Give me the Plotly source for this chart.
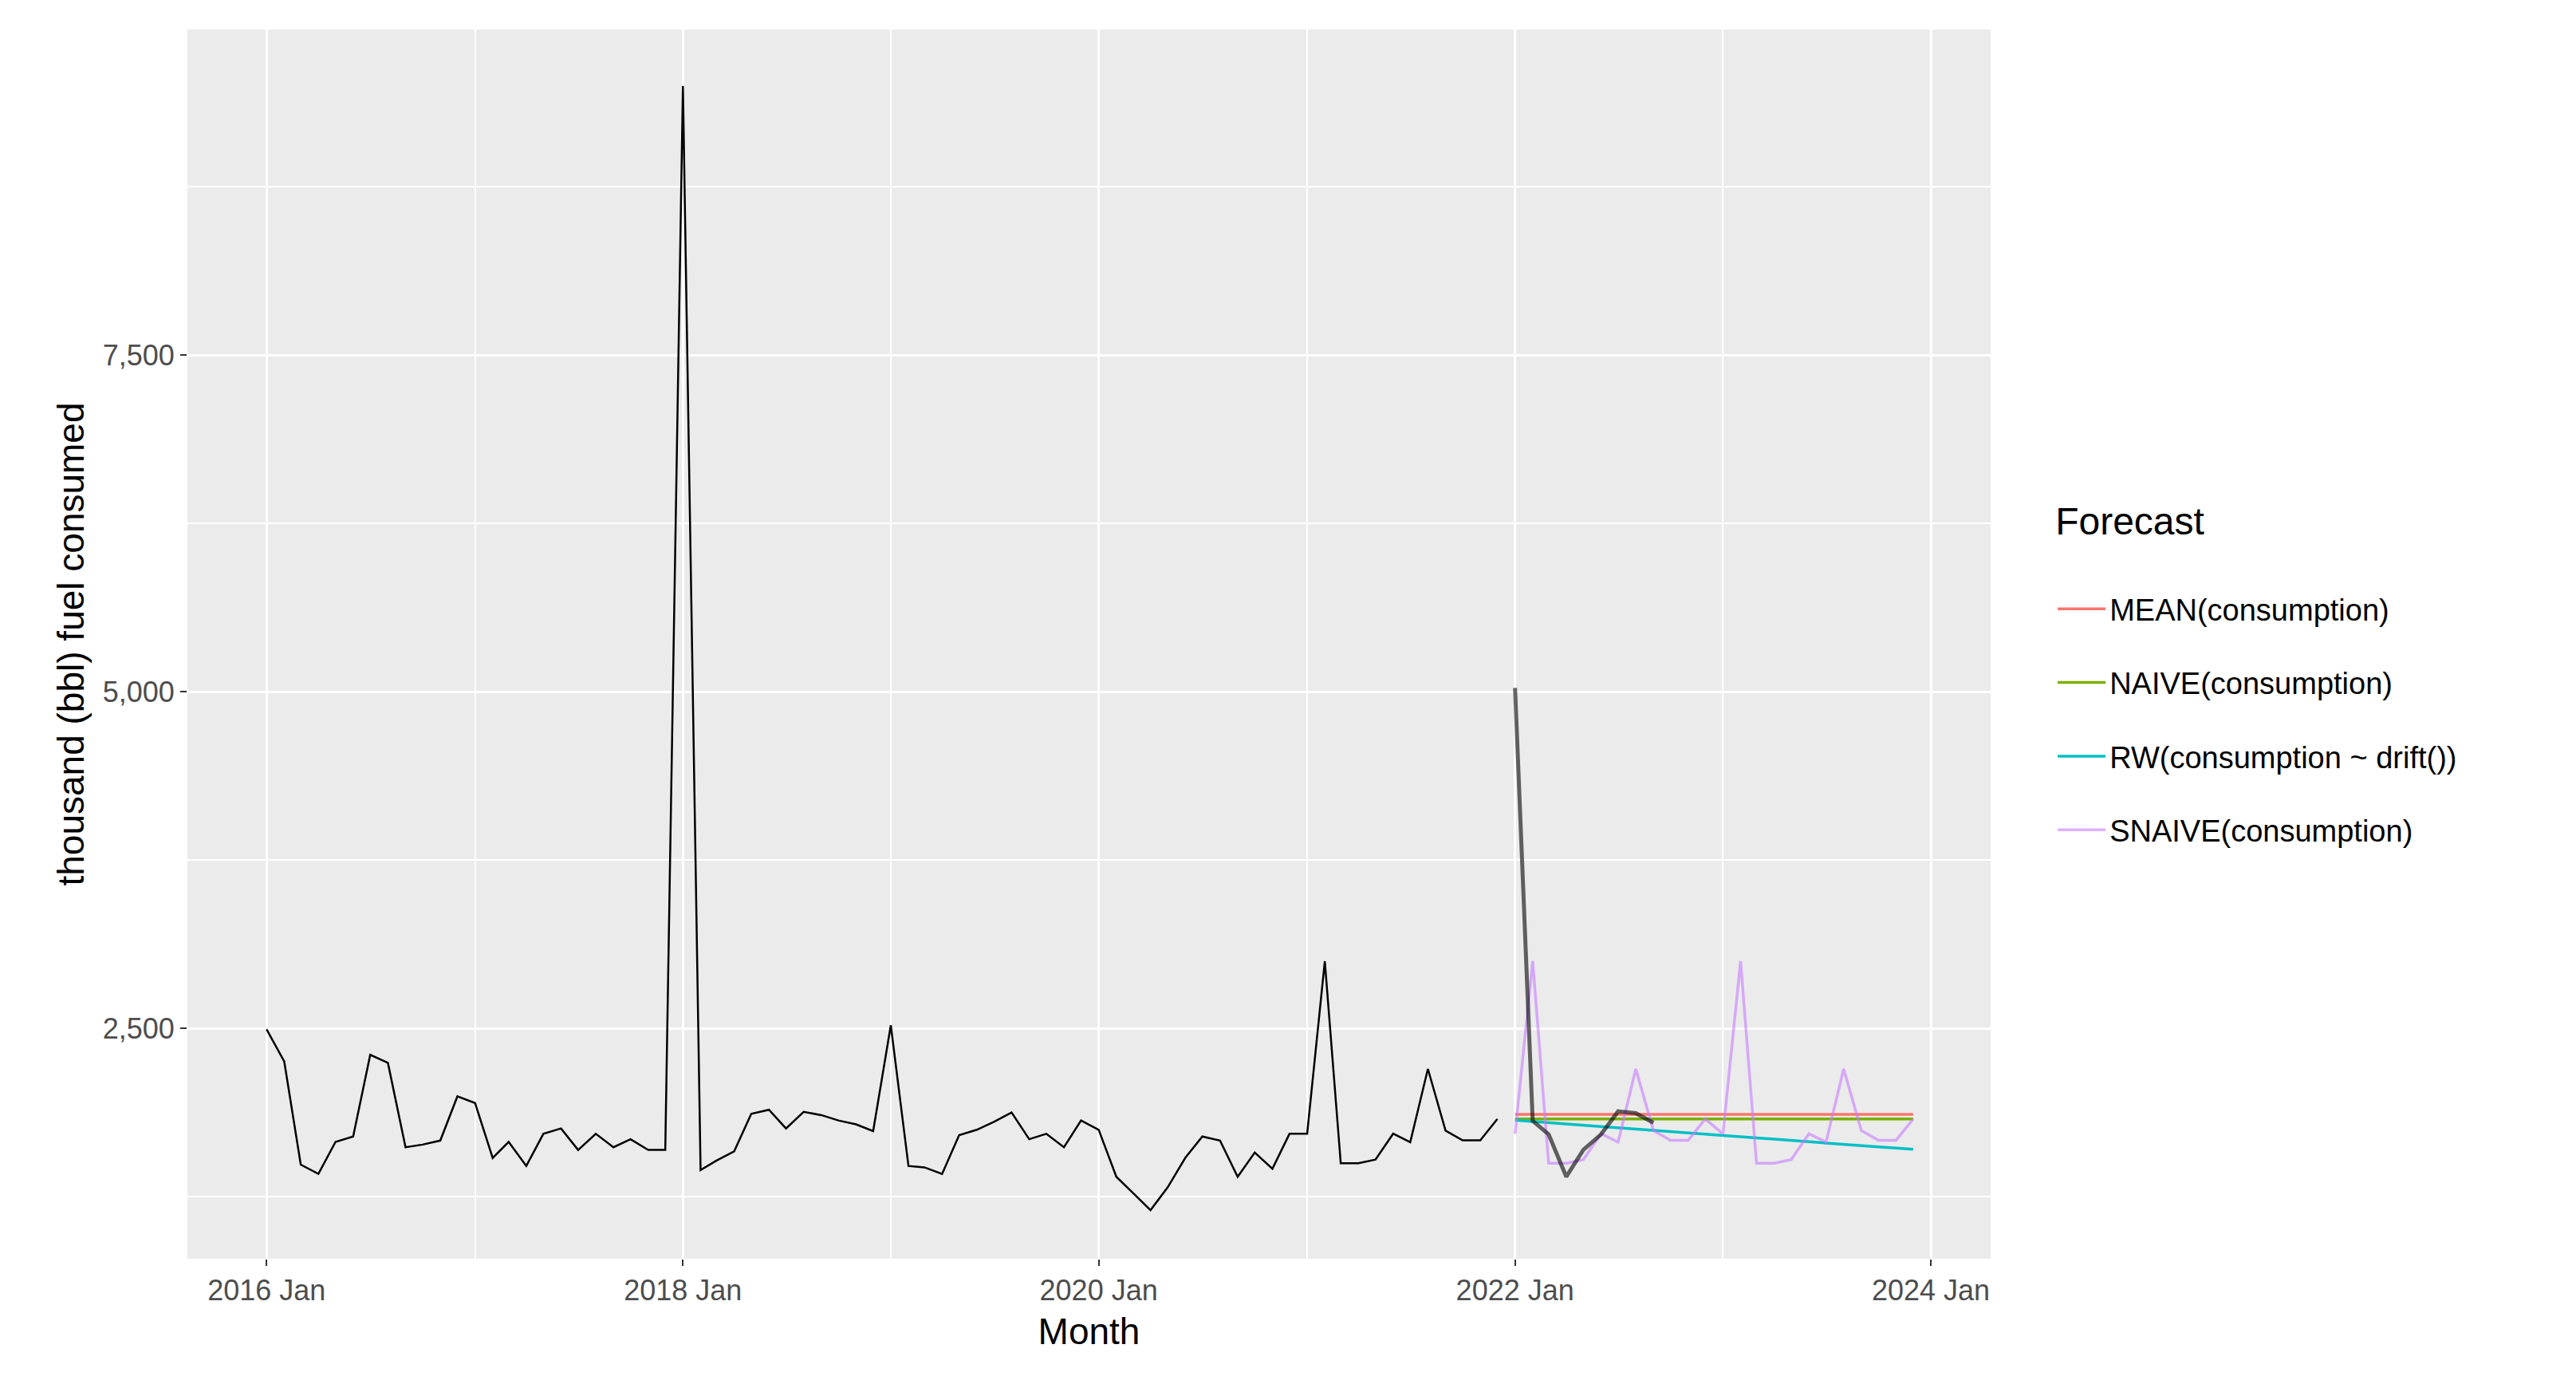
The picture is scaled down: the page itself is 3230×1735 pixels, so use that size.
import pandas as pd
import plotly.graph_objects as go

hist_values = [2494,2255,1489,1420,1658,1698,2305,2245,1618,1638,1668,1996,
               1947,1539,1658,1479,1718,1758,1598,1718,1618,1678,1598,1598,
               9500,1449,1519,1588,1867,1897,1758,1881,1857,1817,1788,1738,
               2524,1479,1469,1420,1708,1748,1807,1877,1678,1718,1618,1817,
               1748,1399,1280,1151,1320,1539,1698,1668,1399,1579,1459,1718,
               1718,3000,1499,1500,1527,1719,1656,2200,1742,1670,1670,1828]
test_values = [5030,1814,1714,1399,1599,1714,1885,1871,1800]
mean_fc = [1862]*24
naive_fc = [1828]*24
drift_fc = [1819,1809,1800,1790,1781,1772,1762,1753,1743,1734,1725,1715,
            1706,1696,1687,1678,1668,1659,1649,1640,1631,1621,1612,1603]
snaive_fc = [1718,3000,1499,1500,1527,1719,1656,2200,1742,1670,1670,1828]*2

hist_dates = pd.date_range("2016-01-01", periods=len(hist_values), freq="MS")
test_dates = pd.date_range("2022-01-01", periods=len(test_values), freq="MS")
fc_dates = pd.date_range("2022-01-01", periods=24, freq="MS")

fig = go.Figure()
fig.add_trace(go.Scatter(x=hist_dates, y=hist_values, mode="lines",
                         line=dict(color="black", width=2.5), showlegend=False))
series = [("MEAN(consumption)", mean_fc, "#F8766D"),
          ("NAIVE(consumption)", naive_fc, "#7CAE00"),
          ("RW(consumption ~ drift())", drift_fc, "#00BFC4"),
          ("SNAIVE(consumption)", snaive_fc, "rgba(199,124,255,0.6)")]
for name, vals, col in series:
    fig.add_trace(go.Scatter(x=fc_dates, y=vals, mode="lines", name=name,
                             legendgroup=name,
                             line=dict(color=col, width=3.5)))
fig.add_trace(go.Scatter(x=test_dates, y=test_values, mode="lines",
                         line=dict(color="rgba(0,0,0,0.6)", width=5), showlegend=False))

tickvals = pd.to_datetime(["2016-01-01","2018-01-01","2020-01-01","2022-01-01","2024-01-01"])
ticktext = ["2016 Jan","2018 Jan","2020 Jan","2022 Jan","2024 Jan"]
fig.update_layout(
    width=3230, height=1735, paper_bgcolor="white", plot_bgcolor="#EBEBEB",
    margin=dict(l=227, r=742, t=29, b=165),
    font=dict(family="Liberation Sans, Arial", size=38, color="black"),
    legend=dict(title=dict(text="Forecast<br> ", font=dict(size=48)), x=1.035, y=0.63,
                yanchor="top", xanchor="left", font=dict(size=38), bgcolor="white",
                tracegroupgap=40, itemwidth=60),
    xaxis=dict(title=dict(text="Month", font=dict(size=46), standoff=15),
               range=[pd.Timestamp("2015-08-15"), pd.Timestamp("2024-04-15")],
               tickvals=tickvals, ticktext=ticktext, gridcolor="white", gridwidth=3,
               ticks="outside", ticklen=8, tickcolor="#333333", tickwidth=2,
               tickfont=dict(color="#4D4D4D", size=36), zeroline=False,
               minor=dict(tickvals=pd.to_datetime(["2017-01-01","2019-01-01","2021-01-01","2023-01-01"]),
                          gridcolor="white", gridwidth=1.5, showgrid=True)),
    yaxis=dict(title=dict(text="thousand (bbl) fuel consumed", font=dict(size=46), standoff=8),
               range=[790, 9920], tickvals=[2500,5000,7500], tickformat=",",
               gridcolor="white", gridwidth=3, ticks="outside", ticklen=8,
               tickcolor="#333333", tickwidth=2, zeroline=False,
               tickfont=dict(color="#4D4D4D", size=36),
               minor=dict(tickvals=[1250,3750,6250,8750], gridcolor="white",
                          gridwidth=1.5, showgrid=True)),
)
fig.write_html("out.html")
